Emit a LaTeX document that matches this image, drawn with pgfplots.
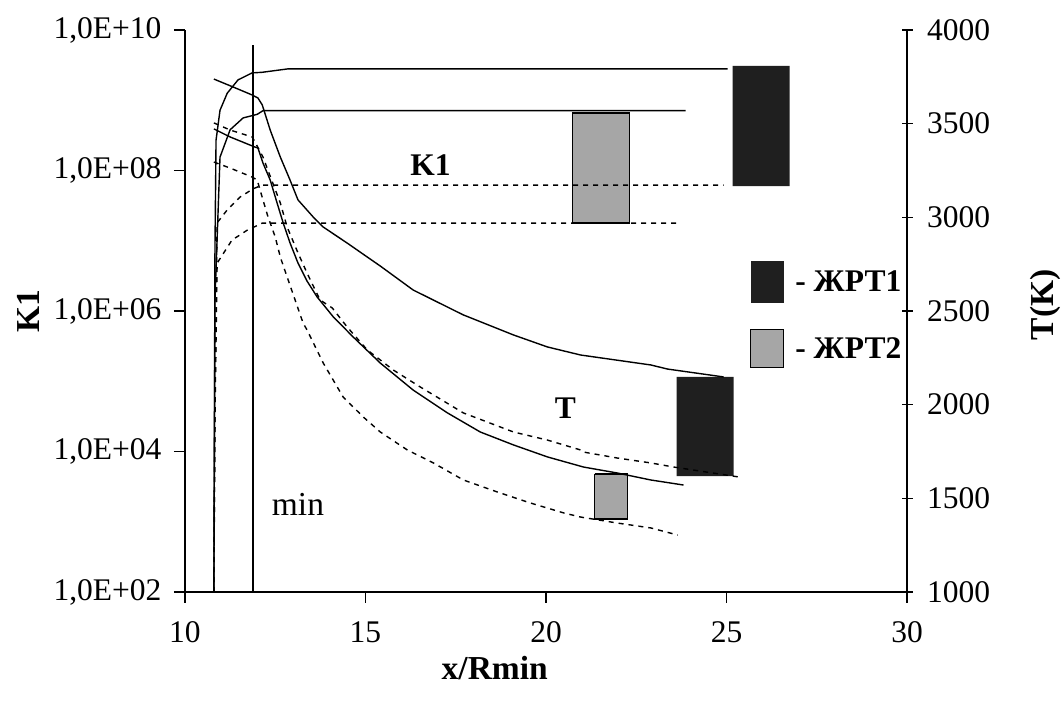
\documentclass[border=0pt]{standalone}
\usepackage{fontspec}
\setmainfont{Liberation Serif}
\usepackage{pgfplots}
\pgfplotsset{compat=1.18}
\newcommand{\tf}{\fontsize{31.5}{34}\selectfont}
\newcommand{\lf}{\fontsize{33.5}{36}\selectfont}
\begin{document}
\begin{tikzpicture}[x=1pt,y=1pt]
\path[use as bounding box] (-185,-114) rectangle (877,592);
\pgfplotsset{
  common/.style={
    scale only axis, width=722pt, height=562pt,
    xmin=10, xmax=30,
    at={(0pt,0pt)}, anchor=south west,
    tick label style={font=\tf},
    label style={font=\lf\bfseries},
    major tick length=11pt,
    /pgf/number format/assume math mode=true,
    /pgf/number format/1000 sep={},
    axis line style={line width=1.6pt,-},
    every outer x axis line/.append style={-},
    every outer y axis line/.append style={-},
    every tick/.style={line width=1.4pt, black},
    clip=false,
  },
  sol/.style={black, line width=1.4pt},
  dsh/.style={black, line width=1.4pt, dash pattern=on 5pt off 5pt},
}
% ---------------- left axis: K1 (log) ----------------
\begin{axis}[common,
  ymode=log, ymin=1e2, ymax=1e10,
  axis x line*=bottom, axis y line*=left,
  xtick={10,15,20,25,30},
  ytick={1e2,1e4,1e6,1e8,1e10},
  yticklabels={{1,0E+02},{1,0E+04},{1,0E+06},{1,0E+08},{1,0E+10}},
  yminorticks=false,
  tick align=outside,
  yticklabel style={xshift=-9pt},
  xticklabel style={yshift=-15pt},
  xlabel={x/Rmin}, ylabel={K1},
  xlabel style={at={(axis description cs:0.429,-0.135)}, anchor=center},
  ylabel style={at={(axis description cs:-0.2175,0.5)}, anchor=center},
  legend style={at={(axis description cs:0.7825,0.589)}, anchor=north west,
    draw=none, fill=none, inner sep=0pt, row sep=26pt, column sep=9pt,
    font=\tf\bfseries, legend cell align=left},
]
% boxes (legend)
\addplot[draw=none, fill=black!88,
  legend image code/.code={\path[fill=black!88] (0pt,-21pt) rectangle (33pt,21pt);}]
  coordinates {(25.17,3.08e9) (26.75,3.08e9) (26.75,6.0e7) (25.17,6.0e7) (25.17,3.08e9)};
\addlegendentry{- ЖРТ1}
\addplot[draw=black, line width=1.2pt, fill=black!35,
  legend image code/.code={\draw[line width=1.2pt, fill=black!35] (0pt,-19pt) rectangle (33pt,19pt);}]
  coordinates {(20.73,6.6e8) (22.32,6.6e8) (22.32,1.79e7) (20.73,1.79e7) (20.73,6.6e8)};
\addlegendentry{- ЖРТ2}
% K1 curves
\addplot[sol, forget plot] coordinates {(10.80,1e2) (10.83,7.4e6) (10.86,2.7e8) (10.97,7.2e8) (11.17,1.26e9) (11.47,1.95e9) (11.86,2.45e9) (12.14,2.5e9) (12.86,2.8e9) (25.03,2.8e9)};
\addplot[sol, forget plot] coordinates {(10.80,1e2) (10.83,1.45e6) (10.97,1.55e8) (11.25,3.8e8) (11.61,5.6e8) (12.00,6.3e8) (12.16,7.1e8) (23.87,7.1e8)};
\addplot[dsh, forget plot] coordinates {(10.80,1e2) (10.83,5.4e4) (10.89,1.8e7) (11.17,2.75e7) (11.53,4.2e7) (11.89,5.5e7) (12.14,6.2e7) (24.92,6.2e7)};
\addplot[dsh, forget plot] coordinates {(10.80,1e2) (10.83,3e4) (10.89,4.8e6) (11.30,1.02e7) (11.72,1.41e7) (12.14,1.78e7) (23.68,1.78e7)};
% min line
\addplot[sol, forget plot] coordinates {(11.88,1e2) (11.88,6.1e9)};
\node[font=\tf\bfseries] at (axis cs:16.8,1.2e8) {K1};
\node[font=\lf] at (axis cs:13.13,1.74e3) {min};
\end{axis}
% ---------------- right axis: T ----------------
\begin{axis}[common,
  ymin=1000, ymax=4000,
  axis y line*=right, axis x line=none,
  ytick={1000,1500,2000,2500,3000,3500,4000},
  scaled y ticks=false,
  tick align=center,
  yticklabel style={xshift=11pt},
  ylabel={T(K)},
  ylabel style={at={(axis description cs:1.192,0.511)}, anchor=center, rotate=0},
]
\addplot[draw=none, fill=black!88] coordinates {(23.62,2148) (25.20,2148) (25.20,1619) (23.62,1619) (23.62,2148)};
\addplot[draw=black, line width=1.2pt, fill=black!35] coordinates {(21.35,1630) (22.26,1630) (22.26,1390) (21.35,1390) (21.35,1630)};
\addplot[sol] coordinates {(10.80,3738) (11.33,3696) (11.86,3653) (12.02,3637) (12.14,3600) (12.36,3466) (12.64,3322) (12.91,3199) (13.13,3093) (13.55,3002) (13.83,2948) (14.49,2863) (15.05,2788) (15.41,2740) (16.32,2612) (17.71,2479) (19.10,2372) (20.04,2308) (20.96,2265) (22.90,2212) (23.37,2190) (24.92,2148)};
\addplot[sol] coordinates {(10.80,3472) (11.25,3429) (11.94,3375) (12.02,3370) (12.16,3290) (12.36,3199) (12.55,3077) (12.72,2970) (12.91,2863) (13.13,2756) (13.38,2660) (13.66,2575) (14.11,2468) (14.66,2361) (15.41,2222) (16.32,2078) (17.27,1956) (18.18,1854) (19.10,1785) (20.04,1721) (21.04,1667) (21.98,1635) (22.90,1598) (23.81,1571)};
\addplot[dsh] coordinates {(10.80,3504) (11.25,3466) (11.86,3429) (11.94,3402) (12.16,3322) (12.30,3250) (12.64,3077) (12.83,2948) (13.13,2810) (13.38,2703) (13.74,2559) (14.08,2516) (14.49,2415) (15.05,2292) (15.77,2185) (16.52,2094) (17.71,1956) (19.10,1854) (20.04,1811) (20.96,1758) (21.04,1747) (21.98,1715) (22.90,1689) (23.54,1667) (25.34,1614)};
\addplot[dsh] coordinates {(10.80,3295) (11.25,3263) (11.86,3215) (12.00,3199) (12.16,3093) (12.30,3002) (12.50,2895) (12.64,2788) (12.83,2681) (13.05,2559) (13.27,2436) (13.38,2399) (13.83,2222) (14.38,2041) (14.94,1934) (15.41,1854) (16.16,1758) (16.88,1689) (17.71,1598) (18.65,1534) (19.57,1475) (20.49,1422) (20.96,1400) (21.98,1368) (22.90,1342) (23.65,1304)};
\node[font=\tf\bfseries] at (axis cs:20.54,1982) {T};
\end{axis}
\end{tikzpicture}
\end{document}
